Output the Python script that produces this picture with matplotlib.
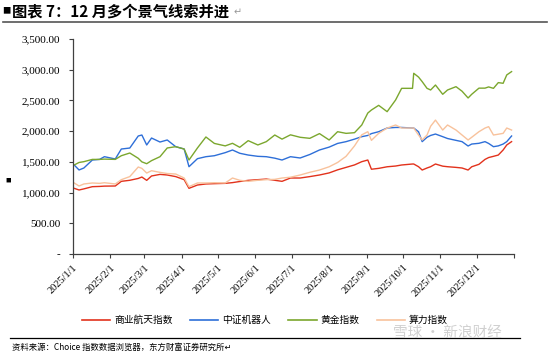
import numpy as np
import pandas as pd
import matplotlib
matplotlib.use('Agg')
import matplotlib.pyplot as plt
from matplotlib.lines import Line2D

plt.rcParams['font.family'] = ['Noto Sans CJK SC', 'DejaVu Sans']

# sample dates (2025)
dates = ['01-02', '01-06', '01-10', '01-17', '01-23',
         '01-27', '02-05', '02-10', '02-17', '02-24',
         '02-27', '03-03', '03-07', '03-14', '03-20',
         '03-27', '04-03', '04-07', '04-14', '04-21',
         '04-28', '05-07', '05-13', '05-19', '05-26',
         '06-03', '06-10', '06-17', '06-23', '06-30',
         '07-08', '07-16', '07-24', '08-01', '08-08',
         '08-15', '08-22', '08-28', '09-02', '09-05',
         '09-11', '09-18', '09-25', '09-30', '10-09',
         '10-10', '10-14', '10-17', '10-21', '10-24',
         '10-28', '11-03', '11-07', '11-14', '11-19',
         '11-24', '11-27', '12-03', '12-08', '12-11',
         '12-15', '12-19', '12-23', '12-26', '12-30']

space = [1069, 1042, 1060, 1096, 1100,
         1105, 1107, 1183, 1200, 1230,
         1253, 1199, 1270, 1296, 1286,
         1260, 1210, 1069, 1123, 1140,
         1145, 1150, 1162, 1180, 1199,
         1210, 1220, 1200, 1183, 1237,
         1237, 1260, 1286, 1320, 1370,
         1410, 1450, 1503, 1530, 1380,
         1394, 1420, 1432, 1449, 1465,
         1465, 1421, 1367, 1400, 1421,
         1465, 1430, 1421, 1410, 1400,
         1367, 1420, 1460, 1540, 1570,
         1590, 1611, 1693, 1775, 1829]

robot = [1449, 1368, 1400, 1530, 1540,
         1584, 1547, 1709, 1725, 1921,
         1937, 1775, 1888, 1823, 1856,
         1747, 1709, 1421, 1552, 1584,
         1600, 1650, 1693, 1640, 1611,
         1590, 1584, 1560, 1530, 1584,
         1563, 1620, 1693, 1740, 1800,
         1829, 1870, 1910, 1930, 1960,
         1991, 2051, 2060, 2060, 2051,
         2051, 1990, 1829, 1900, 1930,
         1953, 1910, 1880, 1850, 1829,
         1758, 1790, 1802, 1829, 1800,
         1747, 1760, 1790, 1829, 1921]

gold = [1449, 1490, 1503, 1540, 1540,
        1545, 1540, 1600, 1644, 1558,
        1500, 1470, 1520, 1584, 1726,
        1747, 1709, 1530, 1726, 1905,
        1800, 1760, 1802, 1737, 1845,
        1775, 1829, 1937, 1870, 1940,
        1900, 1883, 1960, 1856, 1991,
        1964, 1975, 2100, 2295, 2344,
        2420, 2317, 2507, 2697, 2697,
        2942, 2880, 2806, 2697, 2670,
        2751, 2600, 2670, 2724, 2650,
        2540, 2600, 2700, 2700, 2720,
        2697, 2790, 2779, 2915, 2969]

compute = [1156, 1107, 1140, 1156, 1150,
           1160, 1140, 1210, 1260, 1416,
           1394, 1318, 1356, 1329, 1310,
           1302, 1237, 1096, 1156, 1156,
           1160, 1156, 1237, 1200, 1183,
           1200, 1210, 1215, 1237, 1250,
           1286, 1330, 1367, 1420, 1490,
           1590, 1760, 1940, 1991, 1850,
           1964, 2050, 2100, 2051, 2051,
           2051, 1937, 1856, 1937, 2080,
           2180, 2018, 2100, 2018, 1937,
           1856, 1900, 1991, 2050, 2073,
           1937, 1950, 1964, 2051, 2018]

names = ['商业航天指数', '中证机器人', '黄金指数', '算力指数']
colors = ['#E2321C', '#2E6FD8', '#7BA72E', '#F8C29C']
month_labels = ['2025/%d/1' % m for m in range(1, 13)] + ['']

x = pd.to_datetime(['2025-' + d for d in dates])

fig = plt.figure(figsize=(5.5, 3.53), dpi=100)
ax = fig.add_axes([73 / 550, 1 - 254 / 353, 441 / 550, 215 / 353])

for vals, c in zip([space, robot, gold, compute], colors):
    ax.plot(x, vals, color=c, lw=1.0)

ax.set_xlim(pd.Timestamp('2025-01-01'), pd.Timestamp('2026-01-01'))
ax.set_ylim(0, 3500)
ax.set_yticks(np.arange(0, 3501, 500))
ax.set_yticklabels(['-'] + ['{:,.2f}'.format(v) for v in range(500, 3501, 500)],
                   fontfamily='Liberation Serif', fontsize=8)
ticks = pd.date_range('2025-01-01', '2026-01-01', freq='MS')
ax.set_xticks(ticks)
ax.set_xticklabels(month_labels, rotation=45, ha='right', va='top',
                   rotation_mode='anchor', fontfamily='Liberation Serif', fontsize=7.5)
ax.tick_params(axis='both', direction='out', length=3, width=0.8, color='#404040')
ax.tick_params(axis='y', pad=6)
for s in ['top', 'right']:
    ax.spines[s].set_visible(False)
for s in ['left', 'bottom']:
    ax.spines[s].set_color('#404040')
    ax.spines[s].set_linewidth(0.9)

# title and rules
fig.text(2 / 550, 1 - 11 / 353, '■', fontsize=6, va='center', ha='left')
fig.text(12 / 550, 1 - 11 / 353, '图表 7：12 月多个景气线索并进', fontsize=11,
         fontweight='bold', va='center', ha='left')
fig.text(234 / 550, 1 - 12 / 353, '↵', fontsize=7, color='#999999', va='center', ha='left')
fig.add_artist(Line2D([3 / 550, 547 / 550], [1 - 22 / 353] * 2, color='#555555', lw=1.2))
fig.text(5 / 550, 1 - 180 / 353, '■', fontsize=4, va='center', ha='left')

# legend
handles = [Line2D([], [], color=c, lw=1.2) for c in colors]
fig.legend(handles, names, loc='center', bbox_to_anchor=(265 / 550, 1 - 320 / 353),
           ncol=4, frameon=False, fontsize=7, handlelength=2.9, columnspacing=1.8,
           handletextpad=0.4)

# source
fig.add_artist(Line2D([10 / 550, 520 / 550], [1 - 338 / 353] * 2, color='black', lw=0.9))
fig.text(12 / 550, 1 - 347 / 353, '资料来源：Choice 指数数据浏览器，东方财富证券研究所↵',
         fontsize=6, va='center', ha='left')
fig.text(393 / 550, 1 - 333 / 353, '雪球 · 新浪财经', fontsize=10.5, color='#d0d0d0',
         va='center', ha='left')

fig.savefig('out.png', dpi=100)
